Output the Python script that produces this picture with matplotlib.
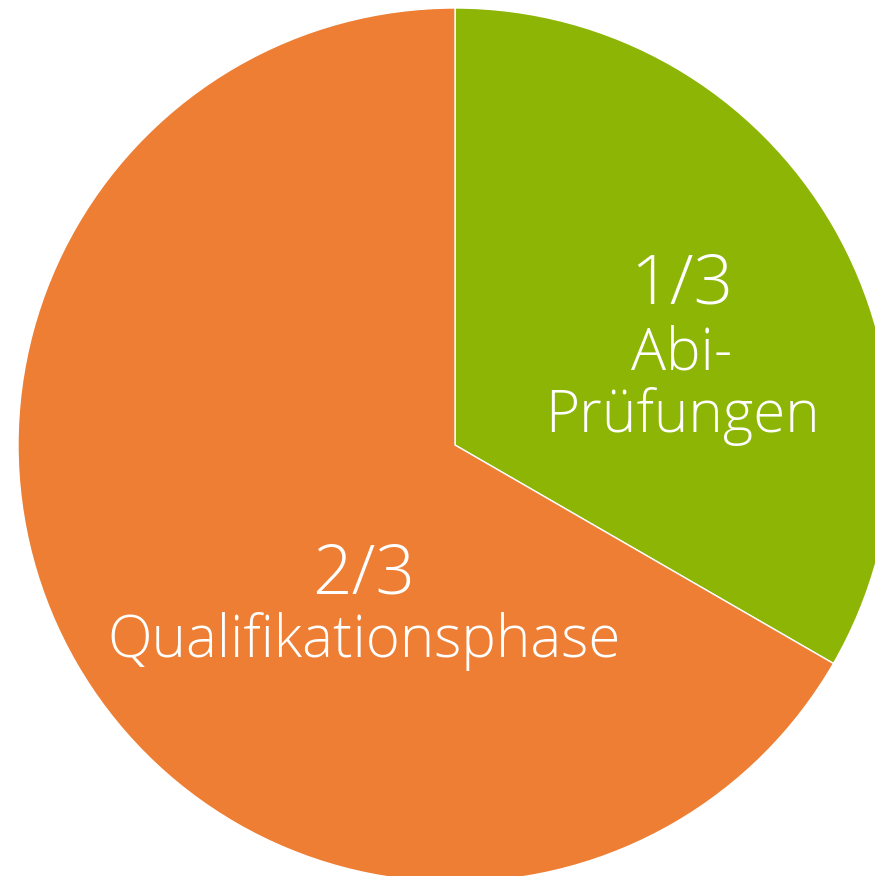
import matplotlib
matplotlib.use("Agg")
import matplotlib.pyplot as plt

# slice data
labels = ["Abi-Prüfungen", "Qualifikationsphase"]
shares = [1, 2]
colors = ["#8DB506", "#ED7E33"]

W, H = 875, 876
fig = plt.figure(figsize=(W / 100, H / 100), dpi=100)
ax = fig.add_axes([0, 0, 1, 1])

ax.pie(shares, colors=colors, startangle=90, counterclock=False,
       center=(455, H - 445), radius=437,
       wedgeprops=dict(edgecolor="white", linewidth=1.0))

ax.set_xlim(0, W)
ax.set_ylim(0, H)
ax.set_aspect("equal")
ax.axis("off")

font = dict(family=["Open Sans", "DejaVu Sans"], weight="light", color="white",
            ha="center", va="baseline")

# green slice text
ax.text(682, H - 303, "1/3", fontsize=50, **font)
ax.text(682, H - 370, "Abi-", fontsize=42, **font)
ax.text(682, H - 432, "Prüfungen", fontsize=42, **font)

# orange slice text
ax.text(364, H - 593, "2/3", fontsize=50, **font)
ax.text(364, H - 657, "Qualifikationsphase", fontsize=42, **font)

fig.savefig("out.png", dpi=100)
